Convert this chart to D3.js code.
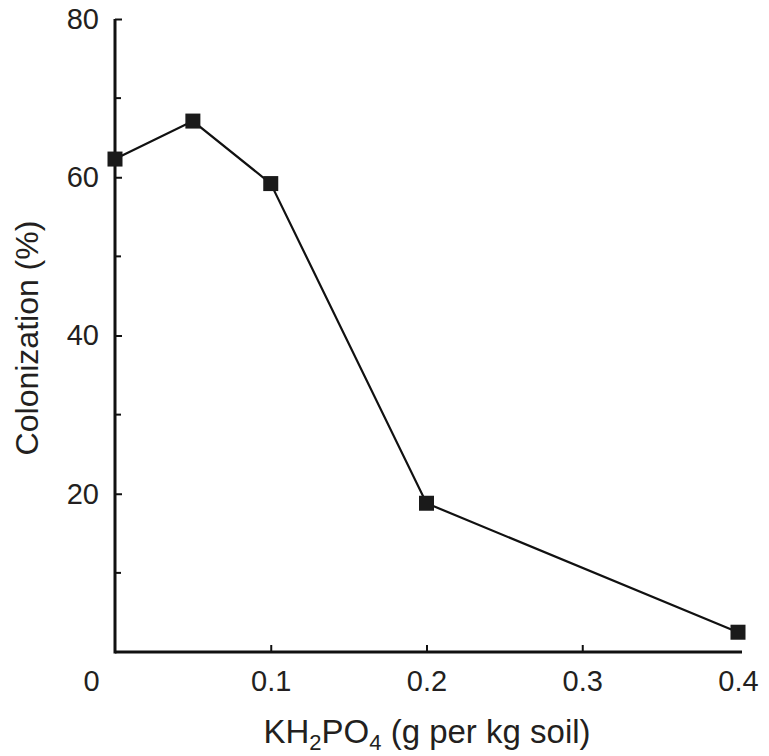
<!DOCTYPE html>
<html>
<head>
<meta charset="utf-8">
<script src="https://cdn.jsdelivr.net/npm/d3@7"></script>
<style>
  body { margin: 0; background: #fff; }
  text { font-family: "Liberation Sans", Arial, sans-serif; fill: #231f20; }
</style>
</head>
<body>
<div id="chart"></div>
<script>
// data
let doses = [0, 0.05, 0.1, 0.2, 0.4];
let colonization = [62.3, 67.1, 59.2, 18.8, 2.5];
let xTicks = [0, 0.1, 0.2, 0.3, 0.4];
let yTicks = [20, 40, 60, 80];
let yMinorTicks = [10, 30, 50, 70];

let width = 769;
let height = 756;

let svg = d3.select("#chart")
  .append("svg")
  .attr("width", width)
  .attr("height", height);

let x = d3.scaleLinear()
  .domain([0, 0.4])
  .range([115, 738]);

let y = d3.scaleLinear()
  .domain([0, 80])
  .range([652, 19]);

// x axis, ticks pointing up into the plot
let xAxis = svg.append("g")
  .attr("transform", "translate(0," + y(0) + ")")
  .call(d3.axisBottom(x)
    .tickValues(xTicks)
    .tickSize(-7)
    .tickPadding(18)
    .tickFormat(d => d === 0 ? "0" : d3.format(".1f")(d)));

xAxis.select(".domain").remove();
xAxis.selectAll(".tick line").attr("stroke", "#111").attr("stroke-width", 2);
xAxis.selectAll(".tick text")
  .attr("font-size", 29)
  .attr("dy", "0.71em");
// the origin label sits left of the y axis
xAxis.selectAll(".tick").filter(d => d === 0).select("text").attr("x", -24);
xAxis.selectAll(".tick").filter(d => d === 0 || d === 0.4).select("line").remove();

svg.append("line")
  .attr("x1", x(0))
  .attr("x2", x(0.4) + 4)
  .attr("y1", y(0))
  .attr("y2", y(0))
  .attr("stroke", "#111")
  .attr("stroke-width", 3);

// y axis, ticks pointing right
let yAxis = svg.append("g")
  .attr("transform", "translate(" + x(0) + ",0)")
  .call(d3.axisLeft(y)
    .tickValues(yTicks)
    .tickSize(-7)
    .tickPadding(16));

yAxis.select(".domain").remove();
yAxis.selectAll(".tick line").attr("stroke", "#111").attr("stroke-width", 2);
yAxis.selectAll(".tick text").attr("font-size", 29);

svg.append("g")
  .selectAll("line")
  .data(yMinorTicks)
  .enter()
  .append("line")
  .attr("x1", x(0))
  .attr("x2", x(0) + 6)
  .attr("y1", d => y(d))
  .attr("y2", d => y(d))
  .attr("stroke", "#111")
  .attr("stroke-width", 2);

svg.append("line")
  .attr("x1", x(0))
  .attr("x2", x(0))
  .attr("y1", y(80))
  .attr("y2", y(0) + 1.5)
  .attr("stroke", "#111")
  .attr("stroke-width", 3);

// data line and square markers
let points = doses.map((d, i) => ({ dose: d, value: colonization[i] }));

svg.append("path")
  .datum(points)
  .attr("fill", "none")
  .attr("stroke", "#111")
  .attr("stroke-width", 2.2)
  .attr("d", d3.line().x(d => x(d.dose)).y(d => y(d.value)));

let markerSize = 15;
svg.selectAll("rect.marker")
  .data(points)
  .enter()
  .append("rect")
  .attr("class", "marker")
  .attr("x", d => x(d.dose) - markerSize / 2)
  .attr("y", d => y(d.value) - markerSize / 2)
  .attr("width", markerSize)
  .attr("height", markerSize)
  .attr("fill", "#1a1a1a");

// axis titles
let xTitle = svg.append("text")
  .attr("x", 427)
  .attr("y", 743)
  .attr("text-anchor", "middle")
  .attr("font-size", 33);
xTitle.append("tspan").text("KH");
xTitle.append("tspan").attr("font-size", 22).attr("dy", 7).text("2");
xTitle.append("tspan").attr("dy", -7).text("PO");
xTitle.append("tspan").attr("font-size", 22).attr("dy", 7).text("4");
xTitle.append("tspan").attr("dy", -7).text(" (g per kg soil)");

svg.append("text")
  .attr("transform", "translate(38,338) rotate(-90)")
  .attr("text-anchor", "middle")
  .attr("font-size", 32)
  .text("Colonization (%)");
</script>
</body>
</html>
